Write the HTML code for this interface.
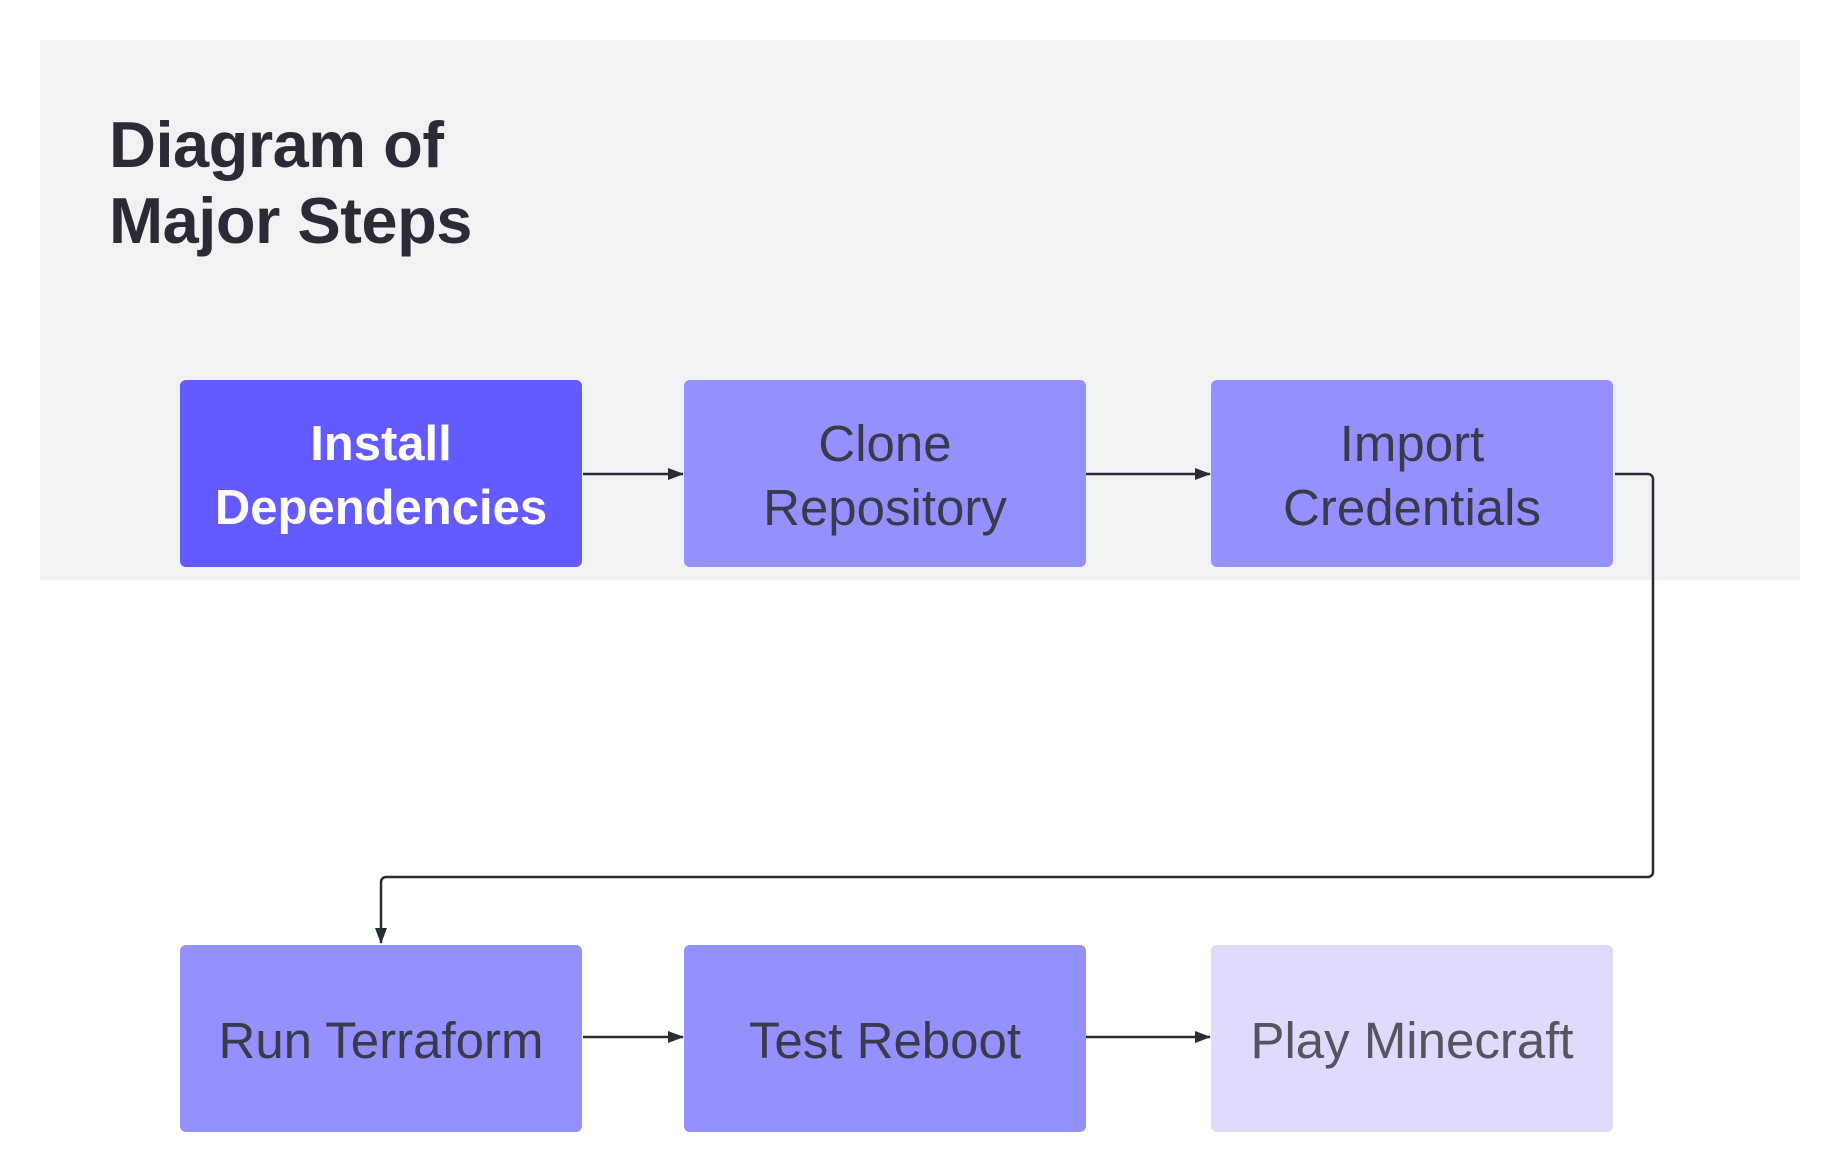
<!DOCTYPE html>
<html><head><style>
body{margin:0;width:1840px;height:1172px;background:#fff;position:relative;overflow:hidden;font-family:"Liberation Sans",sans-serif}
.panel{position:absolute;left:40px;top:40px;width:1760px;height:540px;background:#f1f2f4}
.title{position:absolute;left:109px;top:107px;font-size:65px;line-height:76px;font-weight:bold;color:#282c34;letter-spacing:-0.5px}
.b{position:absolute;width:402px;height:187px;border-radius:6px;background:#9490ff;display:flex;align-items:center;justify-content:center;text-align:center;font-size:51px;line-height:64px;color:#3a3a4c;padding-top:4px;box-sizing:border-box}
</style></head><body>
<div class="panel"></div>
<div class="title">Diagram of<br>Major Steps</div>
<div class="b" style="left:180px;top:380px;background:#635bff;color:#fff;font-weight:bold;font-size:49px">Install<br>Dependencies</div>
<div class="b" style="left:684px;top:380px">Clone<br>Repository</div>
<div class="b" style="left:1211px;top:380px">Import<br>Credentials</div>
<div class="b" style="left:180px;top:945px">Run Terraform</div>
<div class="b" style="left:684px;top:945px">Test Reboot</div>
<div class="b" style="left:1211px;top:945px;background:#dddcfc;color:#555560">Play Minecraft</div>
<svg width="1840" height="1172" style="position:absolute;left:0;top:0">
<defs><marker id="a" markerWidth="16" markerHeight="12" refX="15" refY="6" orient="auto" markerUnits="userSpaceOnUse"><path d="M0,0L16,6L0,12z" fill="#282c34"/></marker></defs>
<g stroke="#282c34" stroke-width="2.5" fill="none">
<line x1="583" y1="474" x2="683" y2="474" marker-end="url(#a)"/>
<line x1="1086" y1="474" x2="1210" y2="474" marker-end="url(#a)"/>
<line x1="583" y1="1037" x2="683" y2="1037" marker-end="url(#a)"/>
<line x1="1086" y1="1037" x2="1210" y2="1037" marker-end="url(#a)"/>
<path d="M1615,474H1648a5,5 0 0 1 5,5V872a5,5 0 0 1 -5,5H386a5,5 0 0 0 -5,5V943" marker-end="url(#a)"/>
</g></svg>
</body></html>
